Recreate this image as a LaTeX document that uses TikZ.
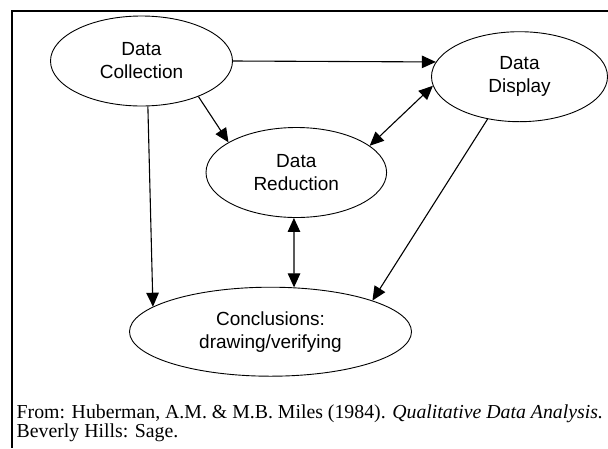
\documentclass[tikz,border=0pt]{standalone}
\usepackage{fontspec}
\setmainfont{Liberation Serif}
\setsansfont{Liberation Sans}
\usetikzlibrary{shapes.geometric,arrows.meta}
\tikzset{
  bub/.style={draw, ellipse, line width=0.9pt, inner sep=0pt, align=center,
    font=\sffamily\fontsize{19}{23}\selectfont},
  conn/.style={line width=1.1pt, -{Triangle[length=14pt,width=12.5pt]}},
  conn2/.style={line width=1.1pt, {Triangle[length=14pt,width=12.5pt]}-{Triangle[length=14pt,width=12.5pt]}},
  frame/.style={line width=2.5pt},
  capt/.style={inner sep=0pt, anchor=base west, font=\fontsize{19.8}{20}\selectfont}
}
\begin{document}
\begin{tikzpicture}[x=1pt,y=-1pt]
\useasboundingbox (0,0) rectangle (608,448);
\coordinate (ftl) at (12,11);
\coordinate (ftr) at (608,11);
\coordinate (fbl) at (12,448);
\draw[frame] (ftr) -- (ftl) -- (fbl);

\node[bub, minimum width=182pt, minimum height=90pt] (coll) at (141.5,61) {Data\\Collection};
\node[bub, minimum width=176pt, minimum height=90pt] (disp) at (519.5,76.7) {Data\\Display};
\node[bub, minimum width=180.6pt, minimum height=90pt] (red) at (296.3,172.5) {Data\\Reduction};
\node[bub, minimum width=282pt, minimum height=89pt] (concl) at (270.5,331.7) {Conclusions:\\drawing/verifying};

\draw[conn] (coll.east) -- (disp.170);
\draw[conn] (coll.-32) -- (red.156);
\draw[conn2] (disp.186.4) -- (red.20);
\draw[conn] (coll.-82) -- (concl.168.9);
\draw[conn2] (red.-93.5) -- (concl.62.7);
\draw[conn] (disp.233.8) -- (concl.17.7);

\node[capt] (cap1) at (16.5,418) {From: Huberman, A.M. \& M.B. Miles (1984). \textit{Qualitative Data Analysis.}};
\node[capt] (cap2) at (16.5,437.5) {Beverly Hills: Sage.};
\end{tikzpicture}
\end{document}
